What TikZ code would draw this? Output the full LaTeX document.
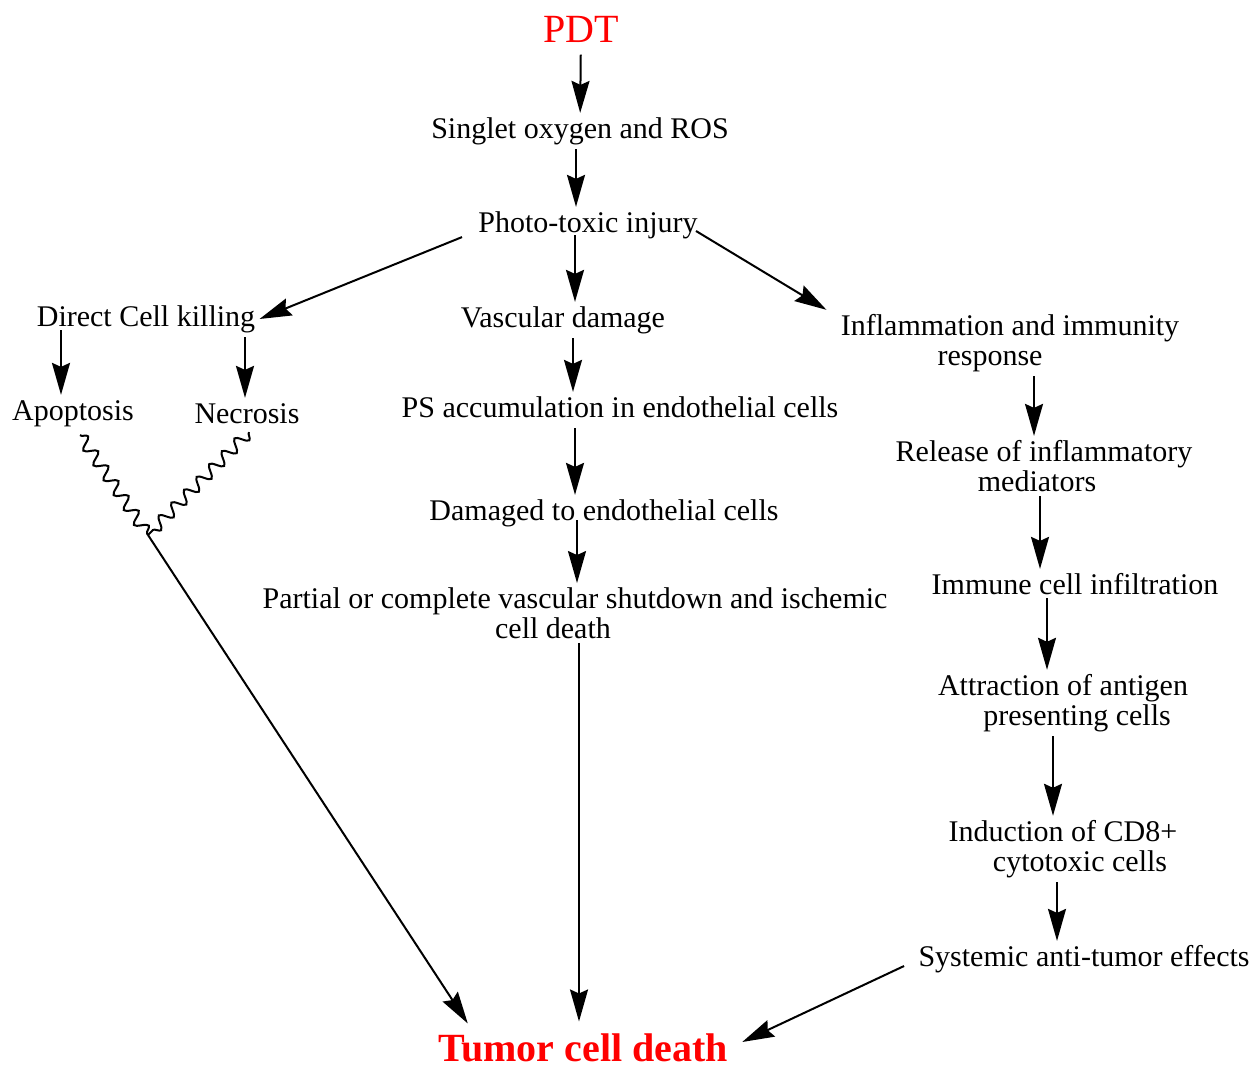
\documentclass[tikz,border=0pt]{standalone}
\usepackage{fontspec}
\setmainfont{Liberation Serif}
\usetikzlibrary{arrows.meta,decorations.pathmorphing}
\tikzstyle{txt} = [inner sep=2pt, font=\fontsize{15}{15}\selectfont, text height=10.5pt, text depth=3.2pt]
\tikzstyle{txt2} = [inner sep=2pt, font=\fontsize{15}{15}\selectfont, align=center]
\tikzstyle{title} = [inner sep=2pt, text=red, font=\fontsize{20}{22}\selectfont]
\tikzstyle{line} = [draw, line width=1pt, -{Stealth[length=16pt,width=9pt,inset=2pt]}]
\tikzstyle{wavy} = [draw, line width=1pt, decorate, decoration={snake, amplitude=3pt, segment length=9pt}]

\begin{document}
\begin{tikzpicture}[x=0.5pt, y=-0.5pt]
    \useasboundingbox (0,0) rectangle (1252,1068);
    % centre column
    \node [title] (pdt) at (581,29) {PDT};
    \node [txt] (sing) at (580,131) {Singlet oxygen and ROS};
    \node [txt] (photo) at (588,225) {Photo-toxic injury};
    \node [txt] (vasc) at (563,320) {Vascular damage};
    \node [txt] (ps) at (620,410) {PS accumulation in endothelial cells};
    \node [txt] (dam) at (604,513) {Damaged to endothelial cells};
    \node [txt2] (part) at (575,613) {Partial or complete vascular shutdown and ischemic\\cell death\hspace*{22pt}};
    \node [title, inner sep=1pt, font=\fontsize{20}{22}\selectfont\bfseries] (tumor) at (583,1048) {Tumor cell death};
    % left column
    \node [txt] (direct) at (146,319) {Direct Cell killing};
    \node [txt] (apop) at (73,413) {Apoptosis};
    \node [txt] (necr) at (247,416) {Necrosis};
    \coordinate (jn) at (148,535);
    % right column
    \node [txt2] (infl) at (1010,343) {Inflammation and immunity\\response\hspace*{20pt}};
    \node [txt2] (rel) at (1044,466) {Release of inflammatory\\mediators\hspace*{7pt}};
    \node [txt] (imm) at (1075,587) {Immune cell infiltration};
    \node [txt2] (attr) at (1063,703) {Attraction of antigen\\\hspace*{14pt}presenting cells};
    \node [txt2] (ind) at (1063,849) {Induction of CD8+\\\hspace*{17pt}cytotoxic cells};
    \node [txt] (sys) at (1084,959) {Systemic anti-tumor effects};

    \path [line, shorten <=4pt] (pdt) -- (sing);
    \path [line] ([xshift=-2pt]sing.south) -- ([xshift=-2pt]sing.south |- photo.north);
    \path [line] ([xshift=-6.5pt,yshift=4pt]photo.south) -- ([xshift=-6.5pt]photo.south |- vasc.north);
    \path [line] ([xshift=-6pt,yshift=3pt]photo.south west) -- (direct.east);
    \path [line] ([xshift=-3pt,yshift=-3pt]photo.east) -- ([xshift=-5pt]infl.north west);
    \path [line] ([xshift=-42.5pt,yshift=3.5pt]direct.south) -- ([xshift=-42.5pt]direct.south |- apop.north);
    \path [line] ([xshift=49.5pt]direct.south) -- ([xshift=49.5pt]direct.south |- necr.north);
    \path [line] ([xshift=5pt]vasc.south) -- ([xshift=5pt]vasc.south |- ps.north);
    \path [line] ([xshift=-22.5pt]ps.south) -- ([xshift=-22.5pt]ps.south |- dam.north);
    \path [line] ([xshift=-13.5pt,yshift=5.5pt]dam.south) -- ([xshift=-13.5pt]dam.south |- part.north);
    \path [line, shorten >=5pt] ([xshift=2pt]part.south) -- ([xshift=2pt]part.south |- tumor.north);
    \path [wavy] ([xshift=3.5pt,yshift=-2pt]apop.south) -- (jn);
    \path [wavy] ([xshift=1pt,yshift=1pt]necr.south) -- (jn);
    \path [line] (jn) -- ([xshift=16pt,yshift=4pt]tumor.north west);
    \path [line] ([xshift=12pt]infl.south) -- ([xshift=12pt]infl.south |- rel.north);
    \path [line] ([xshift=-2pt]rel.south) -- ([xshift=-2pt]rel.south |- imm.north);
    \path [line] ([xshift=-14pt,yshift=3.5pt]imm.south) -- ([xshift=-14pt]imm.south |- attr.north);
    \path [line] ([xshift=-5pt]attr.south) -- ([xshift=-5pt]attr.south |- ind.north);
    \path [line] ([xshift=-3pt]ind.south) -- ([xshift=-3pt]ind.south |- sys.north);
    \path [line] ([xshift=-5pt,yshift=-3.5pt]sys.west) -- ([xshift=6pt,yshift=3pt]tumor.east);
\end{tikzpicture}
\end{document}
